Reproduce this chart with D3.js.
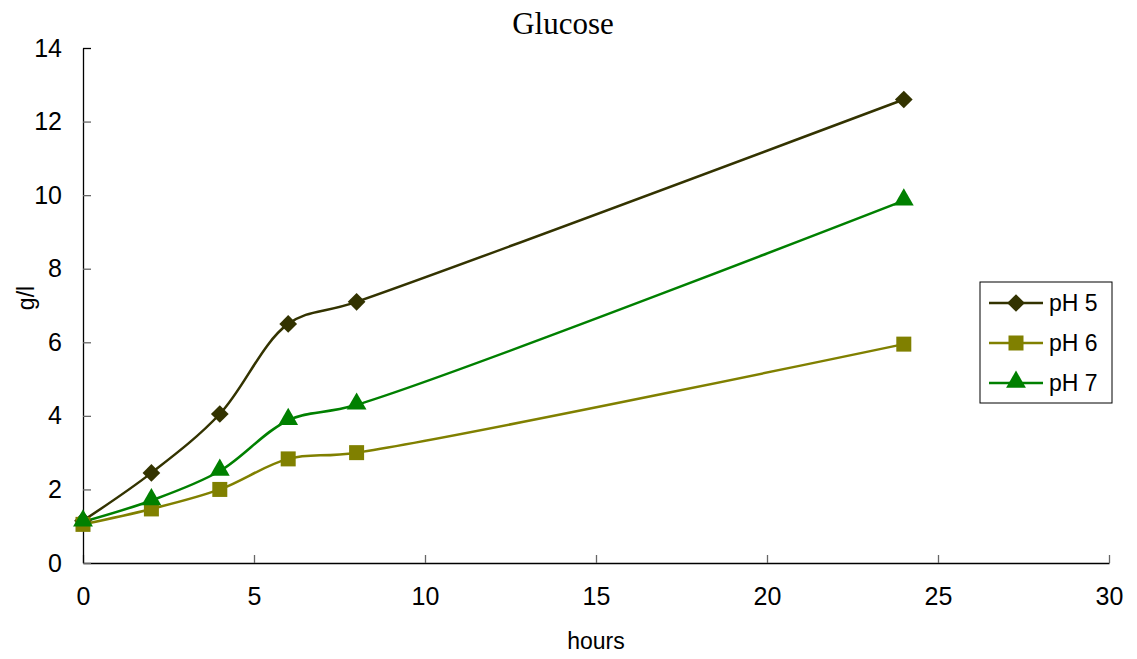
<!DOCTYPE html>
<html>
<head>
<meta charset="utf-8">
<script src="https://cdn.jsdelivr.net/npm/d3@7"></script>
<style>
body { margin: 0; background: #fff; }
</style>
</head>
<body>
<div id="chart"></div>
<script>
// data
var hours = [0, 2, 4, 6, 8, 24];
var ph5 = [1.15, 2.45, 4.05, 6.5, 7.1, 12.6];
var ph6 = [1.05, 1.47, 2.0, 2.83, 3.0, 5.95];
var ph7 = [1.12, 1.7, 2.5, 3.88, 4.3, 9.85];
var seriesNames = ["pH 5", "pH 6", "pH 7"];
var xTicks = [0, 5, 10, 15, 20, 25, 30];
var yTicks = [0, 2, 4, 6, 8, 10, 12, 14];

var W = 1137, H = 659;
var sans = "Arial, 'Liberation Sans', sans-serif";
var svg = d3.select("#chart").append("svg").attr("width", W).attr("height", H)
  .style("font-family", sans);

var x = d3.scaleLinear().domain([0, 30]).range([83, 1109]);
var y = d3.scaleLinear().domain([0, 14]).range([563, 48]);

// axes
var xAxis = svg.append("g").attr("transform", "translate(0,563)")
  .call(d3.axisBottom(x).tickValues(xTicks).tickSizeInner(-8).tickSizeOuter(0).tickPadding(33));
var yAxis = svg.append("g").attr("transform", "translate(83,0)")
  .call(d3.axisLeft(y).tickValues(yTicks).tickSizeInner(-8).tickSizeOuter(0).tickPadding(21));
[xAxis, yAxis].forEach(function(a) {
  a.attr("font-size", null).attr("font-family", null);
  a.select(".domain").attr("stroke", "#000").attr("stroke-width", 1.3);
  a.selectAll(".tick line").attr("stroke", "#666").attr("stroke-width", 1.3);
  a.selectAll(".tick text").style("font-size", "25px").attr("fill", "#000");
});
xAxis.selectAll(".tick text").attr("dy", "0.35em");
// top tick of y axis is black
yAxis.selectAll(".tick line").filter(function(d) { return d == 14; }).attr("stroke", "#000");

svg.append("text").attr("x", 563).attr("y", 34).attr("text-anchor", "middle")
  .style("font-family", "'Times New Roman', 'Liberation Serif', serif").style("font-size", "31px").text("Glucose");
svg.append("text").attr("x", 596).attr("y", 649).attr("text-anchor", "middle")
  .style("font-size", "23px").text("hours");
svg.append("text").attr("transform", "translate(34,298) rotate(-90)").attr("text-anchor", "middle")
  .style("font-size", "23px").text("g/l");

var series = [
  {name: seriesNames[0], values: ph5, color: "#333300", marker: "diamond"},
  {name: seriesNames[1], values: ph6, color: "#808000", marker: "square"},
  {name: seriesNames[2], values: ph7, color: "#008000", marker: "triangle"}
];

var line = d3.line()
  .x(function(d) { return x(d[0]); })
  .y(function(d) { return y(d[1]); })
  .curve(d3.curveCatmullRom.alpha(0.5));

function drawMarker(g, type, cx, cy, color) {
  if (type == "diamond") {
    g.append("path").attr("d", d3.symbol().type(d3.symbolDiamond2).size(200)())
      .attr("transform", "translate(" + cx + "," + cy + ")")
      .attr("fill", color);
  } else if (type == "square") {
    g.append("rect").attr("x", cx - 7.5).attr("y", cy - 7.5).attr("width", 15).attr("height", 15)
      .attr("fill", color);
  } else {
    g.append("path").attr("d", d3.symbol().type(d3.symbolTriangle).size(170)())
      .attr("transform", "translate(" + cx + "," + (cy - 1) + ")")
      .attr("fill", color);
  }
}

series.forEach(function(s) {
  var pts = hours.map(function(h, i) { return [h, s.values[i]]; });
  svg.append("path").datum(pts).attr("d", line)
    .attr("fill", "none").attr("stroke", s.color).attr("stroke-width", 2.5);
});
series.forEach(function(s) {
  var g = svg.append("g");
  hours.forEach(function(h, i) { drawMarker(g, s.marker, x(h), y(s.values[i]), s.color); });
});

// legend
var lg = svg.append("g");
lg.append("rect").attr("x", 980).attr("y", 282).attr("width", 132).attr("height", 121)
  .attr("fill", "#fff").attr("stroke", "#000").attr("stroke-width", 1);
series.forEach(function(s, i) {
  var ly = 303 + i * 40;
  lg.append("line").attr("x1", 989).attr("x2", 1043).attr("y1", ly).attr("y2", ly)
    .attr("stroke", s.color).attr("stroke-width", 2.5);
  drawMarker(lg, s.marker, 1016, ly, s.color);
  lg.append("text").attr("x", 1049).attr("y", ly + 8).style("font-size", "23px").text(s.name);
});
</script>
</body>
</html>
